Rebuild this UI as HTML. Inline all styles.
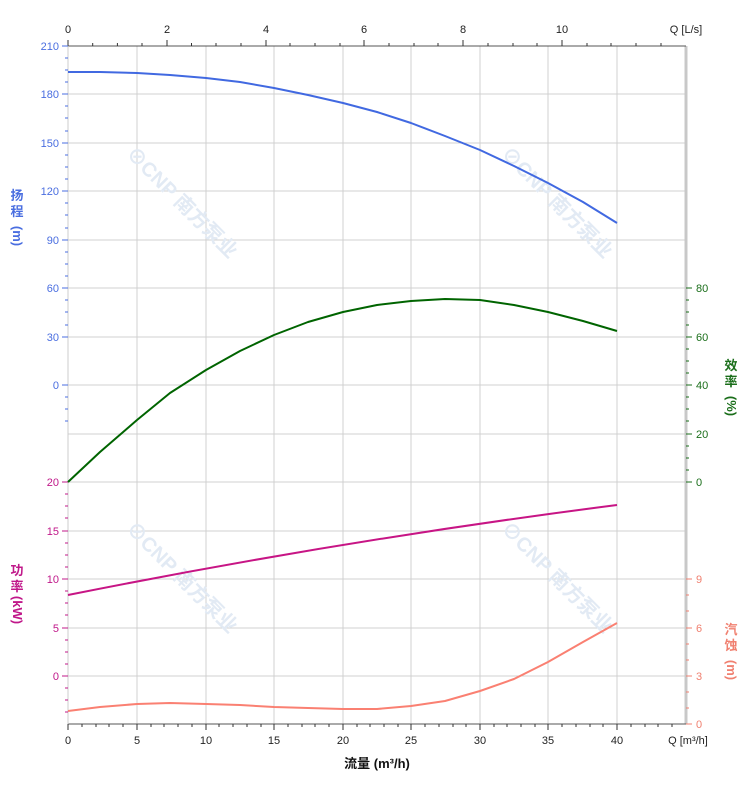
<!DOCTYPE html>
<html><head><meta charset="utf-8"><style>body{margin:0;background:#fff}svg{display:block;font-family:"Liberation Sans","Noto Sans CJK SC",sans-serif}</style></head><body>
<svg width="752" height="797" viewBox="0 0 752 797" xmlns="http://www.w3.org/2000/svg">
<g stroke="#d0d0d0" stroke-width="1">
<line x1="137" y1="46" x2="137" y2="724"/><line x1="206" y1="46" x2="206" y2="724"/><line x1="274" y1="46" x2="274" y2="724"/><line x1="343" y1="46" x2="343" y2="724"/><line x1="411" y1="46" x2="411" y2="724"/><line x1="480" y1="46" x2="480" y2="724"/><line x1="548" y1="46" x2="548" y2="724"/><line x1="617" y1="46" x2="617" y2="724"/>
<line x1="68" y1="94" x2="686" y2="94"/><line x1="68" y1="143" x2="686" y2="143"/><line x1="68" y1="191" x2="686" y2="191"/><line x1="68" y1="240" x2="686" y2="240"/><line x1="68" y1="288" x2="686" y2="288"/><line x1="68" y1="337" x2="686" y2="337"/><line x1="68" y1="385" x2="686" y2="385"/><line x1="68" y1="434" x2="686" y2="434"/><line x1="68" y1="482" x2="686" y2="482"/><line x1="68" y1="531" x2="686" y2="531"/><line x1="68" y1="579" x2="686" y2="579"/><line x1="68" y1="628" x2="686" y2="628"/><line x1="68" y1="676" x2="686" y2="676"/>
</g>
<line x1="686" y1="46" x2="686" y2="724" stroke="#c8c8c8" stroke-width="3"/>
<line x1="68" y1="46" x2="686" y2="46" stroke="#555" stroke-width="1"/>
<line x1="68" y1="724" x2="686" y2="724" stroke="#555" stroke-width="1"/>
<line x1="68" y1="46" x2="68" y2="724" stroke="#ccc" stroke-width="1"/>
<g fill="#e2eaf4" font-size="20" font-weight="bold">
<text transform="translate(125,155) rotate(45)">⊘CNP 南方泵业</text>
<text transform="translate(500,155) rotate(45)">⊘CNP 南方泵业</text>
<text transform="translate(125,530) rotate(45)">⊘CNP 南方泵业</text>
<text transform="translate(500,530) rotate(45)">⊘CNP 南方泵业</text>
</g>
<g stroke="#333" stroke-width="1">
<path d="M68 724v6M82 724v3M96 724v3M109 724v3M123 724v3M137 724v6M151 724v3M164 724v3M178 724v3M192 724v3M206 724v6M219 724v3M233 724v3M247 724v3M261 724v3M274 724v6M288 724v3M302 724v3M315 724v3M329 724v3M343 724v6M357 724v3M370 724v3M384 724v3M398 724v3M411 724v6M425 724v3M439 724v3M453 724v3M466 724v3M480 724v6M494 724v3M507 724v3M521 724v3M535 724v3M548 724v6M562 724v3M576 724v3M590 724v3M603 724v3M617 724v6M631 724v3M645 724v3M658 724v3M672 724v3"/>
<path d="M68 46v-6M92.7 46v-3M117.4 46v-3M142 46v-3M167 46v-6M191.5 46v-3M216 46v-3M241 46v-3M266 46v-6M290 46v-3M315 46v-3M340 46v-3M364 46v-6M389 46v-3M414 46v-3M438 46v-3M463 46v-6M488 46v-3M513 46v-3M537 46v-3M562 46v-6M587 46v-3M611 46v-3M636 46v-3M661 46v-3"/>
</g>
<g font-size="11" fill="#222" text-anchor="middle">
<text x="68" y="744">0</text><text x="137" y="744">5</text><text x="206" y="744">10</text><text x="274" y="744">15</text><text x="343" y="744">20</text><text x="411" y="744">25</text><text x="480" y="744">30</text><text x="548" y="744">35</text><text x="617" y="744">40</text>
<text x="688" y="744">Q [m³/h]</text>
<text x="68" y="33">0</text><text x="167" y="33">2</text><text x="266" y="33">4</text><text x="364" y="33">6</text><text x="463" y="33">8</text><text x="562" y="33">10</text><text x="686" y="33">Q [L/s]</text>
</g>
<text x="377" y="768" font-size="13" font-weight="bold" fill="#111" text-anchor="middle">流量 (m³/h)</text>
<g stroke="#4a6ee0"><path d="M62 46h6M62 94h6M62 143h6M62 191h6M62 240h6M62 288h6M62 337h6M62 385h6M65 58h3M65 70h3M65 82h3M65 106h3M65 118h3M65 131h3M65 155h3M65 167h3M65 179h3M65 203h3M65 215h3M65 228h3M65 252h3M65 264h3M65 276h3M65 300h3M65 312h3M65 325h3M65 397h3M65 409h3M65 421h3"/></g>
<g font-size="11" fill="#4a6ee0" text-anchor="end">
<text x="59" y="50">210</text><text x="59" y="98">180</text><text x="59" y="147">150</text><text x="59" y="195">120</text><text x="59" y="244">90</text><text x="59" y="292">60</text><text x="59" y="341">30</text><text x="59" y="389">0</text>
</g>
<g font-size="13" font-weight="bold" fill="#4a6ee0" text-anchor="middle"><text x="17" y="200">扬</text><text x="17" y="216">程</text><text x="17" y="240" transform="rotate(90 17 236)">(m)</text></g>
<g stroke="#c0188a"><path d="M62 482h6M62 531h6M62 579h6M62 628h6M62 676h6M65 494h3M65 506h3M65 518h3M65 543h3M65 555h3M65 567h3M65 591h3M65 603h3M65 615h3M65 640h3M65 652h3M65 664h3M65 688h3M65 700h3M65 712h3"/></g>
<g font-size="11" fill="#c0188a" text-anchor="end"><text x="59" y="486">20</text><text x="59" y="535">15</text><text x="59" y="583">10</text><text x="59" y="632">5</text><text x="59" y="680">0</text></g>
<g font-size="13" font-weight="bold" fill="#c0188a" text-anchor="middle"><text x="17" y="575">功</text><text x="17" y="591">率</text><text x="17" y="614" transform="rotate(90 17 610)">(kW)</text></g>
<g stroke="#1a6e1a"><path d="M686 288h6M686 337h6M686 385h6M686 434h6M686 482h6M686 300h3M686 312h3M686 325h3M686 349h3M686 361h3M686 373h3M686 397h3M686 409h3M686 421h3M686 446h3M686 458h3M686 470h3"/></g>
<g font-size="11" fill="#1a6e1a"><text x="696" y="292">80</text><text x="696" y="341">60</text><text x="696" y="389">40</text><text x="696" y="438">20</text><text x="696" y="486">0</text></g>
<g font-size="13" font-weight="bold" fill="#1a6e1a" text-anchor="middle"><text x="731" y="370">效</text><text x="731" y="386">率</text><text x="731" y="410" transform="rotate(90 731 406)">(%)</text></g>
<g stroke="#f08070"><path d="M686 579h6M686 628h6M686 676h6M686 724h6M686 595h3M686 611h3M686 644h3M686 660h3M686 692h3M686 708h3"/></g>
<g font-size="11" fill="#f08070"><text x="696" y="583">9</text><text x="696" y="632">6</text><text x="696" y="680">3</text><text x="696" y="728">0</text></g>
<g font-size="13" font-weight="bold" fill="#f08070" text-anchor="middle"><text x="731" y="634">汽</text><text x="731" y="650">蚀</text><text x="731" y="674" transform="rotate(90 731 670)">(m)</text></g>
<g fill="none" stroke-width="2" stroke-linejoin="round">
<polyline stroke="#4169e1" points="68,72 100,72 137,73 170,75 206,78 240,82 274,88 308,95 343,103 377,112 411,123 445,136 480,150 514,166 548,183 583,202 617,223"/>
<polyline stroke="#006400" points="68,482 100,452 137,420 170,393 206,370 240,351 274,335 308,322 343,312 377,305 411,301 445,299 480,300 514,305 548,312 583,321 617,331"/>
<path d="M68 595 Q343 540 617 505" stroke="#c71585"/>
<polyline stroke="#fa8072" points="68,711 100,707 137,704 170,703 206,704 240,705 274,707 308,708 343,709 377,709 411,706 445,701 480,691 514,679 548,662 583,642 617,623"/>
</g>
</svg>
</body></html>
